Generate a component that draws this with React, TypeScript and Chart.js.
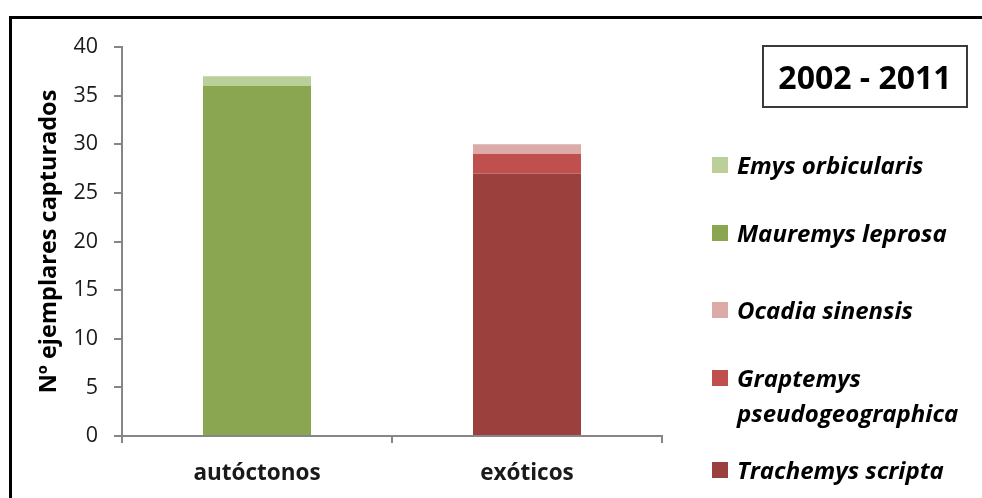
import React, { useEffect, useRef } from "react";
import { Chart, registerables } from "chart.js";

Chart.register(...registerables);

// Captured turtles by origin, 2002 - 2011
const categories = ["autóctonos", "exóticos"];
const seriesNames = [
  "Trachemys scripta",
  "Graptemys pseudogeographica",
  "Ocadia sinensis",
  "Mauremys leprosa",
  "Emys orbicularis",
];
const trachemysScripta = [0, 27];
const graptemysPseudogeographica = [0, 2];
const ocadiaSinensis = [0, 1];
const mauremysLeprosa = [36, 0];
const emysOrbicularis = [1, 0];
const seriesColors = ["#9C403E", "#C0504D", "#DCAAA9", "#8BA650", "#BBD098"];

const yMin = 0;
const yMax = 40;
const yStep = 5;
const yTitle = "Nº ejemplares capturados";
const periodLabel = "2002 - 2011";

// legend rows listed top to bottom (reverse of stacking order)
const legendOrder = [4, 3, 2, 1, 0];
const legendRowTops = [147, 215, 292, 360, 452];

const FONT = "'Open Sans', 'DejaVu Sans', sans-serif";
const AXIS_COLOR = "#868686";
const TEXT_COLOR = "#1a1a1a";

export default function App() {
  const canvasRef = useRef<HTMLCanvasElement | null>(null);

  useEffect(() => {
    const canvas = canvasRef.current;
    if (!canvas) return;
    const seriesValues = [
      trachemysScripta,
      graptemysPseudogeographica,
      ocadiaSinensis,
      mauremysLeprosa,
      emysOrbicularis,
    ];
    const chart = new Chart(canvas, {
      type: "bar",
      data: {
        labels: categories,
        datasets: seriesNames.map((name, i) => ({
          label: name,
          data: seriesValues[i],
          backgroundColor: seriesColors[i],
          borderWidth: 0,
          categoryPercentage: 1,
          barPercentage: 0.4,
        })),
      },
      options: {
        animation: false,
        responsive: false,
        maintainAspectRatio: false,
        layout: { padding: { left: 0, top: 47, right: 320, bottom: 0 } },
        plugins: {
          legend: { display: false },
          tooltip: { enabled: false },
        },
        scales: {
          x: {
            stacked: true,
            border: { color: AXIS_COLOR, width: 2 },
            grid: {
              offset: true,
              drawOnChartArea: false,
              drawTicks: true,
              tickLength: 7,
              color: AXIS_COLOR,
              lineWidth: 2,
            },
            ticks: {
              color: TEXT_COLOR,
              padding: 17,
              font: { family: FONT, size: 22.5, weight: "bold" },
            },
            afterFit: (scale: any) => {
              scale.height = 62;
            },
          },
          y: {
            stacked: true,
            min: yMin,
            max: yMax,
            border: { color: AXIS_COLOR, width: 2 },
            grid: {
              drawOnChartArea: false,
              drawTicks: true,
              tickLength: 8,
              color: AXIS_COLOR,
              lineWidth: 2,
            },
            ticks: {
              stepSize: yStep,
              color: TEXT_COLOR,
              padding: 16,
              font: { family: FONT, size: 21.5 },
            },
            title: {
              display: true,
              text: yTitle,
              color: "#000",
              padding: { top: 35, bottom: 0 },
              font: { family: FONT, size: 23.5, weight: "bold" },
            },
            afterFit: (scale: any) => {
              scale.width = 122;
            },
          },
        },
      },
    });
    return () => chart.destroy();
  }, []);

  return (
    <div
      style={{
        position: "fixed",
        left: 0,
        top: 0,
        width: 982,
        height: 498,
        overflow: "hidden",
        background: "#fff",
        fontFamily: FONT,
      }}
    >
      <div
        style={{
          position: "absolute",
          left: 9,
          top: 16,
          width: 1200,
          height: 800,
          borderLeft: "3px solid #000",
          borderTop: "3px solid #000",
        }}
      />
      <canvas
        ref={canvasRef}
        width={982}
        height={498}
        style={{ position: "absolute", left: 0, top: 0, display: "block" }}
      />
      <div
        style={{
          position: "absolute",
          left: 762,
          top: 45,
          width: 206,
          height: 63,
          boxSizing: "border-box",
          border: "2px solid #3a3a3a",
          display: "flex",
          alignItems: "center",
          justifyContent: "center",
          fontWeight: 700,
          fontSize: 32,
          color: "#000",
        }}
      >
        {periodLabel}
      </div>
      {legendOrder.map((idx, row) => (
        <div
          key={seriesNames[idx]}
          style={{
            position: "absolute",
            left: 712,
            top: legendRowTops[row],
            width: 268,
            display: "flex",
            alignItems: "flex-start",
          }}
        >
          <div
            style={{
              width: 16,
              height: 16,
              marginTop: 10,
              flex: "none",
              background: seriesColors[idx],
            }}
          />
          <div
            style={{
              marginLeft: 9,
              fontSize: 24,
              lineHeight: "35px",
              fontWeight: 700,
              fontStyle: "italic",
              color: "#000",
              maxWidth: 243,
              whiteSpace: "normal",
            }}
          >
            {seriesNames[idx]}
          </div>
        </div>
      ))}
    </div>
  );
}
